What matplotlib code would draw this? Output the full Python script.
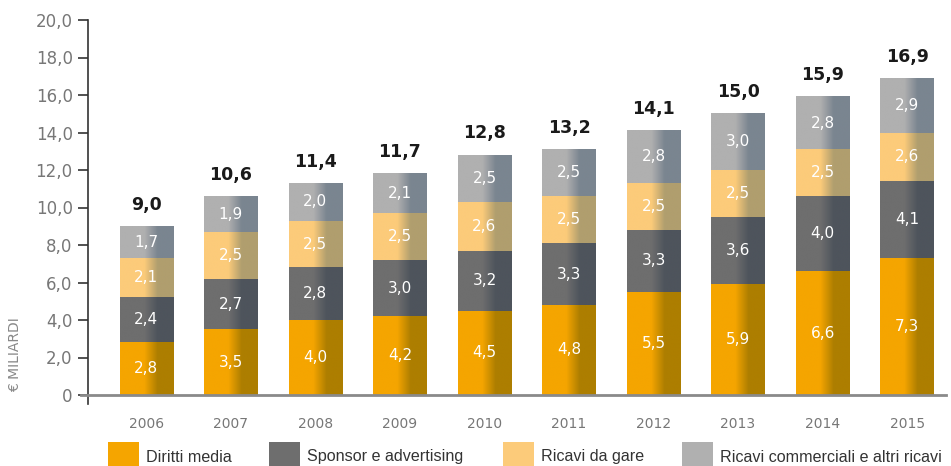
import numpy as np
import matplotlib
matplotlib.use("Agg")
import matplotlib.pyplot as plt
from matplotlib.colors import to_rgb
from matplotlib.patches import Rectangle

years = ["2006", "2007", "2008", "2009", "2010", "2011", "2012", "2013", "2014", "2015"]
diritti_media = [2.8, 3.5, 4.0, 4.2, 4.5, 4.8, 5.5, 5.9, 6.6, 7.3]
sponsor = [2.4, 2.7, 2.8, 3.0, 3.2, 3.3, 3.3, 3.6, 4.0, 4.1]
gare = [2.1, 2.5, 2.5, 2.5, 2.6, 2.5, 2.5, 2.5, 2.5, 2.6]
commerciali = [1.7, 1.9, 2.0, 2.1, 2.5, 2.5, 2.8, 3.0, 2.8, 2.9]
totals = [9.0, 10.6, 11.4, 11.7, 12.8, 13.2, 14.1, 15.0, 15.9, 16.9]
series_names = ["Diritti media", "Sponsor e advertising", "Ricavi da gare",
                "Ricavi commerciali e altri ricavi"]
yticks = [0, 2, 4, 6, 8, 10, 12, 14, 16, 18, 20]

colors_left = ["#F5A500", "#6E6E6E", "#FCCB7A", "#B0B0B0"]
colors_right = ["#AD7E00", "#4E545C", "#B09E6E", "#7A8590"]

plt.rcParams['font.family'] = ['DejaVu Sans']

W, H = 951, 466
fig = plt.figure(figsize=(W / 100, H / 100), dpi=100)
ax = fig.add_axes([88 / W, (H - 404) / H, (946 - 88) / W, (404 - 20) / H])

x = np.arange(len(years))
width = 0.63
series = [diritti_media, sponsor, gare, commerciali]
bottom = np.zeros(len(years))


def fmt(v):
    return f"{v:.1f}".replace(".", ",")


for s, cl, cr in zip(series, colors_left, colors_right):
    bars = ax.bar(x, s, width, bottom=bottom, color=cl, zorder=2)
    n = 200
    t = np.linspace(0, 1, n)
    w = np.clip((t - 0.45) / 0.25, 0, 1)
    a = np.array(to_rgb(cl))
    b = np.array(to_rgb(cr))
    img = (a[None, :] * (1 - w[:, None]) + b[None, :] * w[:, None])[None, :, :]
    for rect in bars:
        x0 = rect.get_x()
        x1 = x0 + rect.get_width()
        y0 = rect.get_y()
        y1 = y0 + rect.get_height()
        ax.imshow(img, extent=[x0, x1, y0, y1], aspect='auto',
                  interpolation='bilinear', zorder=2.5)
    for xi, v, bt in zip(x, s, bottom):
        ax.text(xi, bt + v / 2, fmt(v), ha='center', va='center',
                color='white', fontsize=11, zorder=4)
    bottom = bottom + np.array(s)

for xi, tot, top in zip(x, totals, bottom):
    ax.text(xi, top + 1.15, fmt(tot), ha='center', va='center',
            color='#1a1a1a', fontsize=12.5, fontweight='bold', zorder=4)

ax.set_xlim(-0.69, 9.46)
ax.set_ylim(-0.48, 20)
ax.set_yticks(yticks)
ax.set_yticklabels(["0"] + [fmt(v) for v in yticks[1:]])
ax.set_xticks(x)
ax.set_xticklabels(years)

for sp in ["top", "right", "bottom"]:
    ax.spines[sp].set_visible(False)
ax.spines["left"].set_color("#333333")
ax.spines["left"].set_linewidth(1.2)

ax.axhline(0, xmin=-0.008, xmax=1, color="#8a8a8a", linewidth=2, zorder=5,
           clip_on=False)

ax.tick_params(axis='y', length=7, width=1.2, color="#333333",
               labelcolor="#777777", labelsize=12, pad=4)
ax.tick_params(axis='x', length=0, labelcolor="#777777", labelsize=10, pad=9)

fig.text(15 / W, (H - 355) / H, "€ MILIARDI", rotation=90, ha='center',
         va='center', color="#888888", fontsize=10)

# legend drawn manually
sq_x = [108, 269, 503, 682]
for px, name, c in zip(sq_x, series_names, colors_left):
    fig.add_artist(Rectangle((px / W, 0), 31 / W, (H - 442) / H,
                             transform=fig.transFigure, facecolor=c,
                             edgecolor='none'))
    fig.text((px + 38) / W, (H - 457) / H, name, ha='left', va='center',
             color="#333333", fontsize=11.6,
             family=['Liberation Sans', 'DejaVu Sans'])

fig.savefig("out.png", dpi=100)
